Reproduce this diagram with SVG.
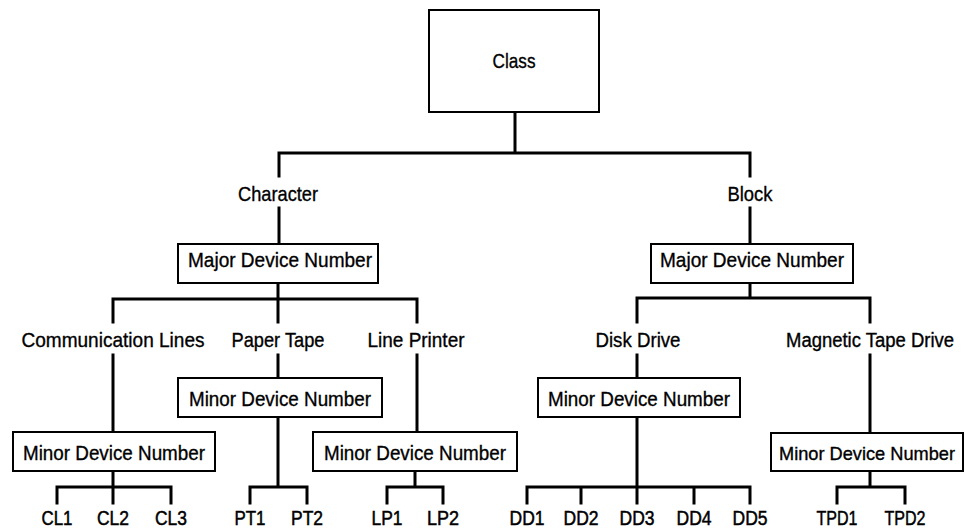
<svg xmlns="http://www.w3.org/2000/svg" width="965" height="530" viewBox="0 0 965 530">
<style>
text{font-family:"Liberation Sans",Arial,sans-serif;font-size:21px;fill:#000;stroke:#000;stroke-width:0.35;text-anchor:middle}
text.leaf{font-size:20px;stroke-width:0.5}
text.edge{font-size:19.5px}
text.edge2{font-size:18.5px}
.box{fill:#fff;stroke:#000;stroke-width:2}
.c{fill:none;stroke:#000;stroke-width:3;stroke-linecap:square}
</style>
<rect width="965" height="530" fill="#fff"/>
<g id="connectors">
<path class="c" d="M515,112V153M279,153H750M279,153V176M750,153V176M279,208V244M750,208V244"/>
<path class="c" d="M278,283V299M113,299H417M113,299V322M278,299V322M417,299V322"/>
<path class="c" d="M113,355V432M278,355V378M417,355V432"/>
<path class="c" d="M113,471V487M57,487H171M57,487V503M113,487V503M171,487V503"/>
<path class="c" d="M278,417V487M250,487H307M250,487V503M307,487V503"/>
<path class="c" d="M415,471V487M387,487H443M387,487V503M443,487V503"/>
<path class="c" d="M750,283V298M637,298H870M637,298V322M870,298V322"/>
<path class="c" d="M637,355V378M637,417V487M527,487H750M527,487V503M581,487V503M637,487V503M694,487V503M750,487V503"/>
<path class="c" d="M870,355V433M870,471V487M837,487H905M837,487V503M905,487V503"/>
</g>
<g id="class"><rect class="box" x="429" y="10" width="170" height="102"/><text x="514" y="68" textLength="43" lengthAdjust="spacingAndGlyphs">Class</text></g>
<g id="character"><text x="278" y="201" textLength="80" lengthAdjust="spacingAndGlyphs">Character</text></g>
<g id="block"><text x="750" y="201" textLength="45" lengthAdjust="spacingAndGlyphs">Block</text></g>
<g id="major-char"><rect class="box" x="178" y="244" width="200" height="39"/><text x="280" y="267" textLength="184" lengthAdjust="spacingAndGlyphs">Major Device Number</text></g>
<g id="major-block"><rect class="box" x="651" y="244" width="202" height="39"/><text x="752" y="267" textLength="184" lengthAdjust="spacingAndGlyphs">Major Device Number</text></g>
<g id="comm-lines"><text x="113" y="347" textLength="183" lengthAdjust="spacingAndGlyphs">Communication Lines</text></g>
<g id="paper-tape"><text x="278" y="347" textLength="93" lengthAdjust="spacingAndGlyphs">Paper Tape</text></g>
<g id="line-printer"><text x="416" y="347" textLength="97" lengthAdjust="spacingAndGlyphs">Line Printer</text></g>
<g id="disk-drive"><text x="638" y="347" textLength="85" lengthAdjust="spacingAndGlyphs">Disk Drive</text></g>
<g id="mag-tape"><text class="edge" x="870" y="347" textLength="168" lengthAdjust="spacingAndGlyphs">Magnetic Tape Drive</text></g>
<g id="minor-cl"><rect class="box" x="13" y="432" width="202" height="39"/><text x="114" y="460" textLength="182" lengthAdjust="spacingAndGlyphs">Minor Device Number</text></g>
<g id="minor-pt"><rect class="box" x="178" y="378" width="204" height="39"/><text x="280" y="406" textLength="182" lengthAdjust="spacingAndGlyphs">Minor Device Number</text></g>
<g id="minor-lp"><rect class="box" x="313" y="432" width="204" height="39"/><text x="415" y="460" textLength="182" lengthAdjust="spacingAndGlyphs">Minor Device Number</text></g>
<g id="minor-dd"><rect class="box" x="538" y="378" width="202" height="39"/><text x="639" y="406" textLength="182" lengthAdjust="spacingAndGlyphs">Minor Device Number</text></g>
<g id="minor-tpd"><rect class="box" x="771" y="433" width="192" height="38"/><text class="edge2" x="867" y="460" textLength="176" lengthAdjust="spacingAndGlyphs">Minor Device Number</text></g>
<g id="cl1"><text class="leaf" x="57" y="525" textLength="31" lengthAdjust="spacingAndGlyphs">CL1</text></g>
<g id="cl2"><text class="leaf" x="113" y="525" textLength="32" lengthAdjust="spacingAndGlyphs">CL2</text></g>
<g id="cl3"><text class="leaf" x="171" y="525" textLength="32" lengthAdjust="spacingAndGlyphs">CL3</text></g>
<g id="pt1"><text class="leaf" x="250" y="525" textLength="31" lengthAdjust="spacingAndGlyphs">PT1</text></g>
<g id="pt2"><text class="leaf" x="307" y="525" textLength="32" lengthAdjust="spacingAndGlyphs">PT2</text></g>
<g id="lp1"><text class="leaf" x="387" y="525" textLength="31" lengthAdjust="spacingAndGlyphs">LP1</text></g>
<g id="lp2"><text class="leaf" x="443" y="525" textLength="32" lengthAdjust="spacingAndGlyphs">LP2</text></g>
<g id="dd1"><text class="leaf" x="527" y="525" textLength="35" lengthAdjust="spacingAndGlyphs">DD1</text></g>
<g id="dd2"><text class="leaf" x="581" y="525" textLength="35" lengthAdjust="spacingAndGlyphs">DD2</text></g>
<g id="dd3"><text class="leaf" x="637" y="525" textLength="35" lengthAdjust="spacingAndGlyphs">DD3</text></g>
<g id="dd4"><text class="leaf" x="694" y="525" textLength="35" lengthAdjust="spacingAndGlyphs">DD4</text></g>
<g id="dd5"><text class="leaf" x="750" y="525" textLength="35" lengthAdjust="spacingAndGlyphs">DD5</text></g>
<g id="tpd1"><text class="leaf" x="837" y="525" textLength="41" lengthAdjust="spacingAndGlyphs">TPD1</text></g>
<g id="tpd2"><text class="leaf" x="905" y="525" textLength="41" lengthAdjust="spacingAndGlyphs">TPD2</text></g>
</svg>
